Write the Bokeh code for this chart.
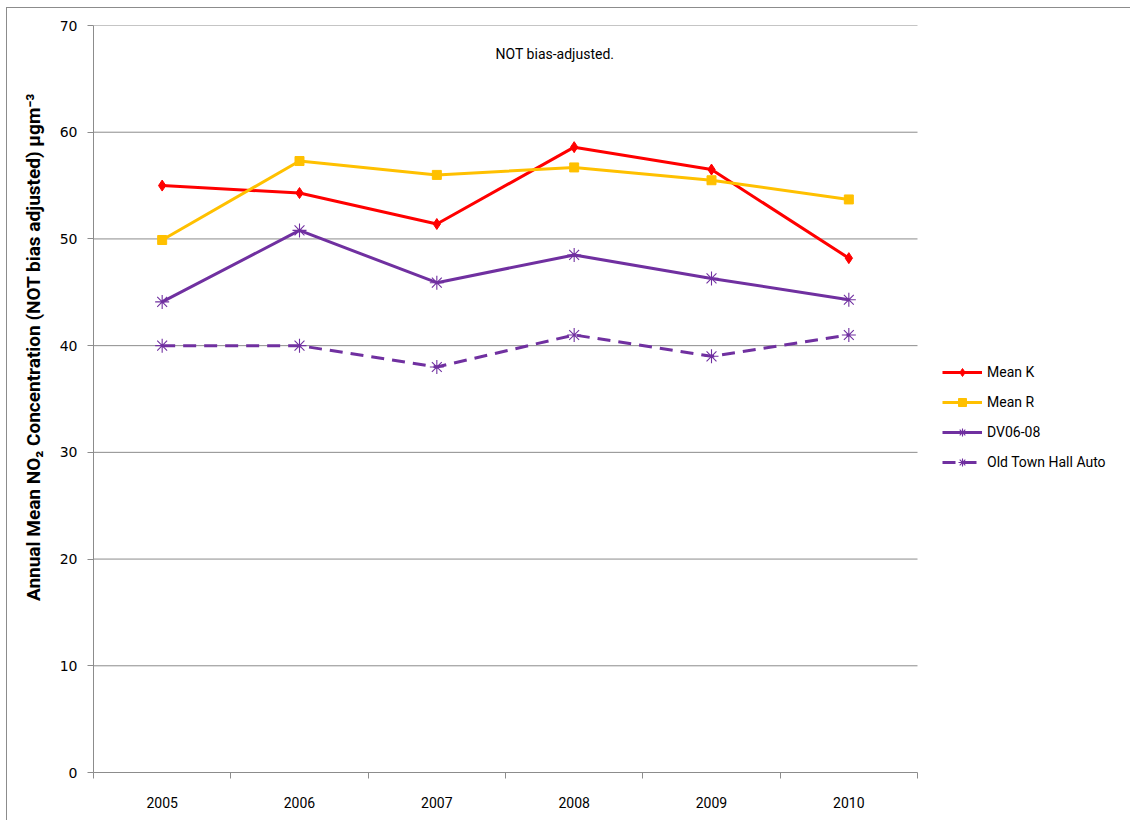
from bokeh.plotting import figure
from bokeh.models import (FixedTicker, Legend, LegendItem, Label)
from bokeh.embed import file_html
from bokeh.resources import INLINE

years = ["2005", "2006", "2007", "2008", "2009", "2010"]
mean_k = [55.0, 54.3, 51.4, 58.6, 56.5, 48.2]
mean_r = [49.9, 57.3, 56.0, 56.7, 55.5, 53.7]
dv06_08 = [44.1, 50.8, 45.9, 48.5, 46.3, 44.3]
old_town_hall = [40.0, 40.0, 38.0, 41.0, 39.0, 41.0]
y_ticks = [0, 10, 20, 30, 40, 50, 60, 70]

n = len(years)
xs = [i + 0.5 for i in range(n)]

GRAY = "#8c8c8c"
# plot area spans pixels 92..916; frame extended to 1125 to host the legend
x_end = n * (1125 - 92) / (916 - 92)

p = figure(width=1124, height=813, output_backend="svg", toolbar_location=None,
           x_range=(0, x_end), y_range=(0, 70),
           min_border_left=86, min_border_right=5, min_border_top=17, min_border_bottom=49)
p.margin = (7, 0, 0, 6)
p.styles = {"border-top": "1px solid #8c8c8c", "border-left": "1px solid #8c8c8c"}
p.outline_line_color = None
p.background_fill_color = "white"
p.border_fill_color = "white"

# x axis: labels at category centres, ticks at boundaries
p.xaxis.ticker = FixedTicker(ticks=xs, minor_ticks=list(range(n + 1)))
p.xaxis.bounds = (0, n)
p.xaxis.major_label_overrides = {x: y for x, y in zip(xs, years)}
p.xaxis.major_tick_line_color = None
p.xaxis.minor_tick_line_color = GRAY
p.xaxis.minor_tick_out = 6
p.xaxis.minor_tick_in = 0
p.xaxis.axis_line_color = GRAY
p.xaxis.major_label_text_font = "Roboto"
p.xaxis.major_label_text_font_size = "14px"
p.xaxis.major_label_text_color = "black"
p.xaxis.major_label_standoff = 18
p.xgrid.grid_line_color = None
p.ygrid.grid_line_color = None

p.yaxis.ticker = FixedTicker(ticks=y_ticks)
p.yaxis.minor_tick_line_color = None
p.yaxis.major_tick_line_color = GRAY
p.yaxis.major_tick_out = 6
p.yaxis.major_tick_in = 0
p.yaxis.axis_line_color = GRAY
p.yaxis.major_label_text_font = "DejaVu Sans"
p.yaxis.major_label_text_font_size = "14px"
p.yaxis.major_label_text_color = "black"
p.yaxis.major_label_standoff = 10
p.yaxis.axis_label = "\u00a0" * 22 + "Annual Mean NO\u2082 Concentration (NOT bias adjusted) \u00b5gm\u207b\u00b3"
p.yaxis.axis_label_text_font = "Roboto"
p.yaxis.axis_label_text_font_style = "bold"
p.yaxis.axis_label_text_font_size = "19px"
p.yaxis.axis_label_text_color = "black"
p.yaxis.axis_label_standoff = 12

# horizontal gridlines limited to the plot area
grid_y = y_ticks[1:]
p.segment(x0=[0] * len(grid_y), x1=[n] * len(grid_y), y0=grid_y, y1=grid_y,
          line_color=GRAY, line_width=1)

RED = "#ff0000"
YEL = "#ffc000"
PUR = "#7030a0"

lk = p.line(xs, mean_k, line_color=RED, line_width=3)
sk = p.scatter(xs, mean_k, marker="diamond", size=11, color=RED)
lr = p.line(xs, mean_r, line_color=YEL, line_width=3)
sr = p.scatter(xs, mean_r, marker="square", size=9, color=YEL)
ld = p.line(xs, dv06_08, line_color=PUR, line_width=3)
sd = p.scatter(xs, dv06_08, marker="asterisk", size=14, line_color=PUR, line_width=1.1)
lo = p.line(xs, old_town_hall, line_color=PUR, line_width=3, line_dash="13 8")
so = p.scatter(xs, old_town_hall, marker="asterisk", size=14, line_color=PUR, line_width=1.1)

legend = Legend(items=[
    LegendItem(label="Mean K", renderers=[lk, sk]),
    LegendItem(label="Mean R", renderers=[lr, sr]),
    LegendItem(label="DV06-08", renderers=[ld, sd]),
    LegendItem(label="Old Town Hall Auto", renderers=[lo, so]),
], location=(849, 300))
legend.border_line_color = None
legend.background_fill_alpha = 0
legend.padding = 10
legend.margin = 0
legend.spacing = 10
legend.label_height = 20
legend.glyph_height = 20
legend.glyph_width = 40
legend.label_standoff = 5
legend.label_text_font = "Roboto"
legend.label_text_font_size = "14px"
legend.label_text_color = "black"
p.add_layout(legend, "center")

p.add_layout(Label(x=3.36, y=67.3, text="NOT bias-adjusted.", text_align="center",
                   text_baseline="middle", text_font="Roboto", text_font_size="14px",
                   text_color="black"))

open("out.html", "w").write(file_html(p, INLINE))
